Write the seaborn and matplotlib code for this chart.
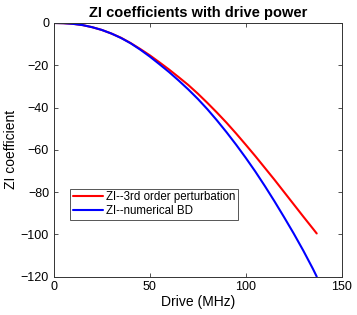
import numpy as np
import pandas as pd
import matplotlib
matplotlib.use('Agg')
import matplotlib.pyplot as plt
import seaborn as sns

# drive amplitude (MHz) and ZI coefficients
aDrive = [0, 5, 10, 15, 20, 25, 30, 35, 40, 45, 50, 55, 60, 65, 70, 75, 80,
          85, 90, 95, 100, 105, 110, 115, 120, 125, 130, 135, 137]
aZI_pert = [0, -0.1, -0.4, -1.0, -2.0, -3.3, -5.0, -7.0, -9.5, -12.3, -15.3,
            -18.6, -22.0, -25.6, -29.3, -33.4, -37.8, -42.4, -47.2, -52.3,
            -57.6, -63.0, -68.6, -74.2, -80.0, -85.8, -91.6, -97.3, -99.6]
aZI_bd = [0, -0.1, -0.4, -1.0, -2.0, -3.3, -5.0, -7.1, -9.6, -12.6, -15.9,
          -19.5, -23.2, -27.2, -31.4, -35.9, -40.8, -46.1, -51.7, -57.6,
          -63.8, -70.3, -77.2, -84.4, -91.9, -99.6, -107.7, -116.3, -120.0]
sLabel_pert = 'ZI--3rd order perturbation'
sLabel_bd = 'ZI--numerical BD'

df = pd.DataFrame({'Drive': aDrive * 2,
                   'ZI': aZI_pert + aZI_bd,
                   'series': [sLabel_pert] * len(aDrive) + [sLabel_bd] * len(aDrive)})

sns.set_style('ticks')
plt.rcParams['font.family'] = ['Liberation Sans', 'DejaVu Sans']
plt.rcParams['text.color'] = 'black'
plt.rcParams['axes.labelcolor'] = 'black'
plt.rcParams['xtick.color'] = 'black'
plt.rcParams['ytick.color'] = 'black'

fig = plt.figure(figsize=(3.57, 3.15), dpi=100)
ax = fig.add_axes([0.151, 0.122, 0.806, 0.805])

sns.lineplot(data=df, x='Drive', y='ZI', hue='series',
             palette={sLabel_pert: '#ff0000', sLabel_bd: '#0000ff'},
             linewidth=1.5, ax=ax)

ax.set_xlim(0, 150)
ax.set_ylim(-120, 0)
ax.set_xticks([0, 50, 100, 150])
ax.set_yticks([0, -20, -40, -60, -80, -100, -120])
ax.tick_params(direction='in', top=True, right=True, length=3,
               labelsize=9, width=0.6)
ax.tick_params(colors='#333333', labelcolor='black')
for s in ax.spines.values():
    s.set_color('#333333')
    s.set_linewidth(0.7)
ax.set_xlabel('Drive (MHz)', fontsize=10, labelpad=1)
ax.set_ylabel('ZI coefficient', fontsize=10, labelpad=2)
ax.set_title('ZI coefficients with drive power', fontsize=10.5,
             fontweight='bold', pad=4)

leg = ax.legend(loc='lower left', bbox_to_anchor=(0.055, 0.225), fontsize=8.3,
                handlelength=2.6, handletextpad=0.3, borderpad=0.25,
                labelspacing=0.1, fancybox=False, framealpha=1,
                borderaxespad=0)
leg.get_frame().set_edgecolor('#555555')
leg.get_frame().set_linewidth(0.7)

plt.savefig('out.png', dpi=100)
